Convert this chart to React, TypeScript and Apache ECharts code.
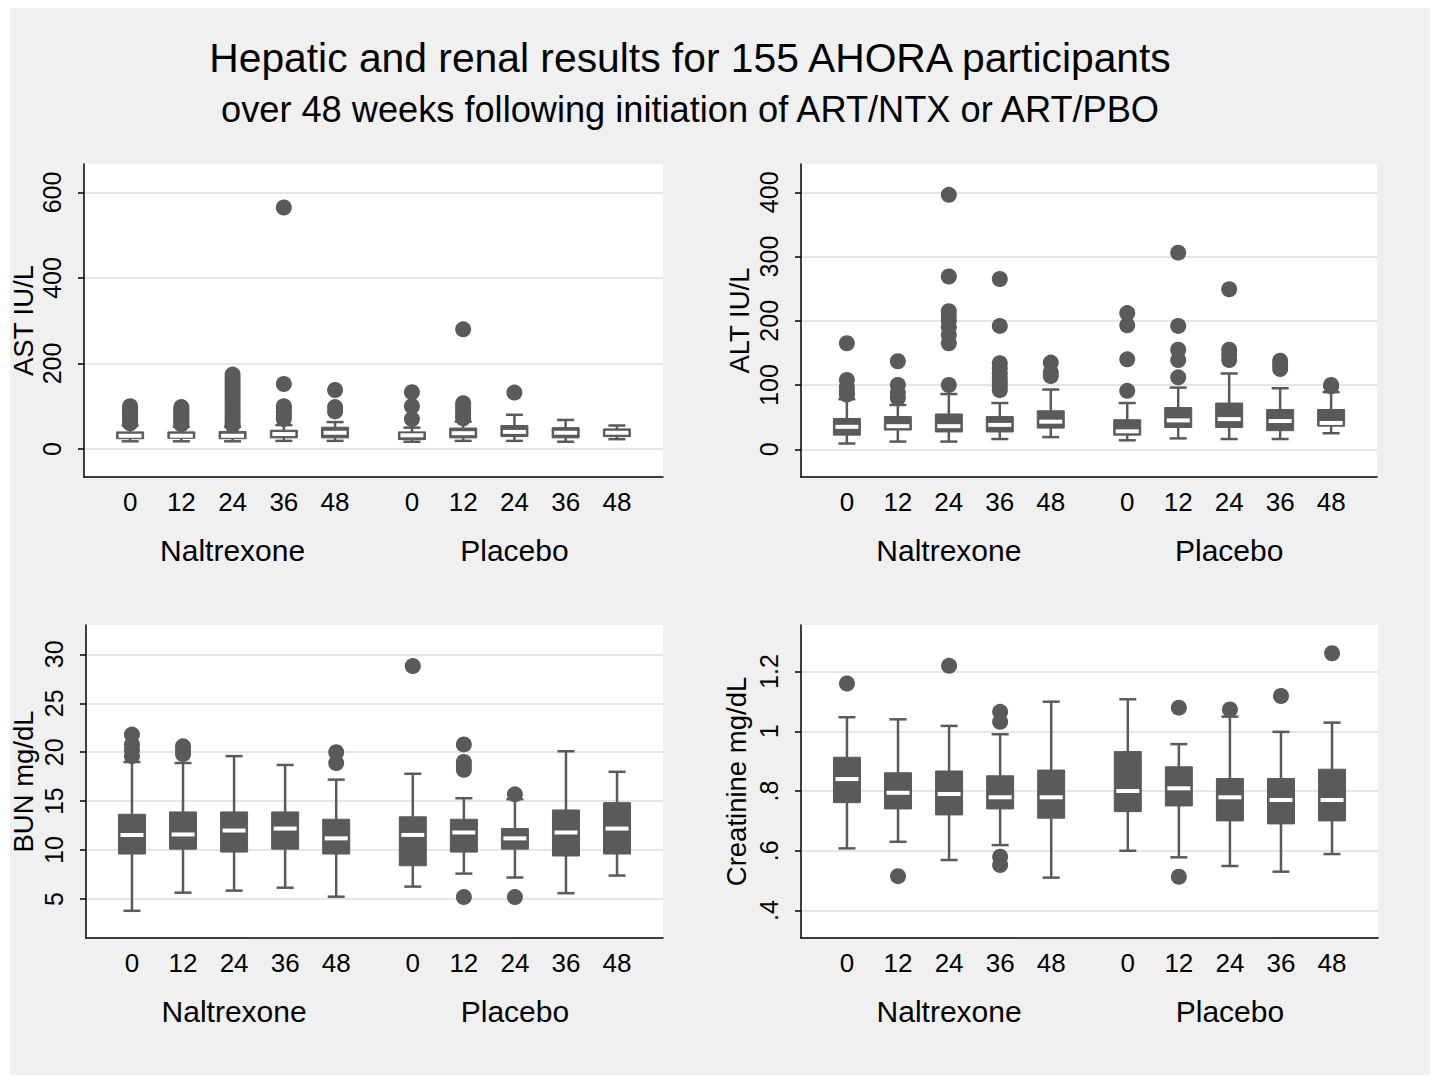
import React, { useEffect, useRef } from "react";
import * as echarts from "echarts";

// ---- Data ----
const xPositions = [1, 2, 3, 4, 5, 6.5, 7.5, 8.5, 9.5, 10.5];
const weekLabels = ["0", "12", "24", "36", "48", "0", "12", "24", "36", "48"];
const groupPositions = [3, 8.5];
const groupLabels = ["Naltrexone", "Placebo"];

// [lower whisker, Q1, median, Q3, upper whisker]
const astStats = [
  [18, 24, 31, 40, 55], [18, 25, 31, 40, 52], [18, 24, 31, 41, 52], [19, 26, 35, 44, 56], [19, 26, 38, 51, 63],
  [17, 22, 32, 40, 50], [19, 26, 37, 49, 64], [19, 29, 40, 55, 80], [17, 26, 38, 50, 68], [23, 29, 38, 47, 55],
];
const astOutliers = [
  [60, 65, 70, 75, 80, 85, 90, 95, 100],
  [58, 63, 68, 73, 78, 83, 88, 93, 98],
  [56, 62, 70, 78, 86, 94, 102, 110, 118, 126, 134, 142, 150, 158, 166, 174],
  [70, 78, 86, 94, 100, 152, 565],
  [88, 98, 138],
  [70, 100, 133],
  [72, 78, 85, 92, 100, 107, 280],
  [132],
  [],
  [],
];
const altStats = [
  [9, 22, 35, 48, 78], [12, 30, 36, 51, 69], [12, 27, 36, 55, 86], [16, 27, 38, 51, 72], [19, 33, 43, 60, 93],
  [14, 22, 28, 46, 72], [17, 34, 45, 65, 96], [16, 34, 47, 72, 118], [16, 29, 44, 62, 95], [25, 36, 41, 62, 89],
];
const altOutliers = [
  [85, 90, 97, 108, 165],
  [80, 88, 100, 137],
  [100, 165, 178, 190, 200, 208, 215, 269, 396],
  [92, 98, 104, 110, 118, 126, 134, 192, 265],
  [114, 120, 135],
  [91, 140, 193, 212],
  [112, 139, 155, 192, 306],
  [139, 147, 155, 249],
  [125, 132, 138],
  [98, 100],
];
const bunStats = [
  [3.8, 9.6, 11.55, 13.66, 19.0], [5.65, 10.1, 11.6, 13.9, 18.9], [5.86, 9.8, 12.0, 13.9, 19.6], [6.16, 10.1, 12.2, 13.9, 18.7], [5.24, 9.6, 11.2, 13.15, 17.2],
  [6.27, 8.4, 11.55, 13.4, 17.8], [7.6, 9.8, 11.8, 13.15, 15.3], [7.2, 10.1, 11.2, 12.2, 15.2], [5.6, 9.4, 11.8, 14.1, 20.1], [7.4, 9.6, 12.2, 14.85, 18.0],
];
const bunOutliers = [
  [19.6, 20.2, 20.8, 21.8],
  [19.8, 20.2, 20.6],
  [],
  [],
  [18.9, 20.0],
  [28.8],
  [5.2, 18.2, 18.6, 19.0, 20.8],
  [5.2, 15.7],
  [],
  [],
];
const crStats = [
  [0.608, 0.761, 0.84, 0.913, 1.047], [0.63, 0.74, 0.794, 0.861, 1.04], [0.569, 0.72, 0.79, 0.867, 1.018], [0.619, 0.74, 0.779, 0.851, 0.99], [0.51, 0.709, 0.779, 0.87, 1.099],
  [0.6, 0.731, 0.8, 0.932, 1.107], [0.578, 0.75, 0.809, 0.881, 0.957], [0.549, 0.7, 0.779, 0.842, 1.049], [0.53, 0.69, 0.77, 0.842, 0.998], [0.589, 0.7, 0.77, 0.873, 1.029],
];
const crOutliers = [
  [1.16],
  [0.515],
  [1.219],
  [0.552, 0.58, 1.032, 1.065],
  [],
  [],
  [0.513, 1.079],
  [1.073],
  [1.118],
  [1.261],
];

const astTicks = [0, 200, 400, 600];
const astTickLabels = ["0", "200", "400", "600"];
const altTicks = [0, 100, 200, 300, 400];
const altTickLabels = ["0", "100", "200", "300", "400"];
const bunTicks = [5, 10, 15, 20, 25, 30];
const bunTickLabels = ["5", "10", "15", "20", "25", "30"];
const crTicks = [0.4, 0.6, 0.8, 1.0, 1.2];
const crTickLabels = [".4", ".6", ".8", "1", "1.2"];

const titleLine1 = "Hepatic and renal results for 155 AHORA participants";
const titleLine2 = "over 48 weeks following initiation of ART/NTX or ART/PBO";

const FONT = "'Liberation Sans', Arial, Helvetica, sans-serif";
const DARK = "#5a5a5a";

const panels = [
  { name: "AST IU/L", stats: astStats, outliers: astOutliers, ticks: astTicks, tickLabels: astTickLabels, min: -65.5, max: 666.7, grid: { left: 84, top: 164, width: 579, height: 313 }, nameGap: 47, labelMargin: 20 },
  { name: "ALT IU/L", stats: altStats, outliers: altOutliers, ticks: altTicks, tickLabels: altTickLabels, min: -43.1, max: 444.0, grid: { left: 801, top: 164, width: 576, height: 313 }, nameGap: 48, labelMargin: 20 },
  { name: "BUN mg/dL", stats: bunStats, outliers: bunOutliers, ticks: bunTicks, tickLabels: bunTickLabels, min: 1.02, max: 33.0, grid: { left: 86, top: 625, width: 577, height: 313 }, nameGap: 49, labelMargin: 20 },
  { name: "Creatinine mg/dL", stats: crStats, outliers: crOutliers, ticks: crTicks, tickLabels: crTickLabels, min: 0.308, max: 1.3557, grid: { left: 801, top: 625, width: 577, height: 313 }, nameGap: 51, labelMargin: 20 },
];

function labelFor(ticks: number[], labels: string[], v: number) {
  let best = 0;
  for (let i = 0; i < ticks.length; i++) {
    if (Math.abs(ticks[i] - v) < Math.abs(ticks[best] - v)) best = i;
  }
  return labels[best];
}

function renderBox(params: any, api: any) {
  const x = api.value(0);
  const lo = api.coord([x, api.value(1)]);
  const q1 = api.coord([x, api.value(2)]);
  const med = api.coord([x, api.value(3)]);
  const q3 = api.coord([x, api.value(4)]);
  const hi = api.coord([x, api.value(5)]);
  const cx = lo[0];
  const bw = 27;
  const cw = 17;
  const lineStyle = { stroke: DARK, lineWidth: 2.5 };
  return {
    type: "group",
    children: [
      { type: "line", shape: { x1: cx, y1: q3[1], x2: cx, y2: hi[1] }, style: lineStyle },
      { type: "line", shape: { x1: cx - cw / 2, y1: hi[1], x2: cx + cw / 2, y2: hi[1] }, style: lineStyle },
      { type: "line", shape: { x1: cx, y1: q1[1], x2: cx, y2: lo[1] }, style: lineStyle },
      { type: "line", shape: { x1: cx - cw / 2, y1: lo[1], x2: cx + cw / 2, y2: lo[1] }, style: lineStyle },
      { type: "rect", shape: { x: cx - bw / 2, y: q3[1], width: bw, height: q1[1] - q3[1] }, style: { fill: DARK, stroke: DARK, lineWidth: 1 } },
      { type: "rect", shape: { x: cx - bw / 2 + 2, y: med[1] - 2, width: bw - 4, height: 4 }, style: { fill: "#ffffff" } },
    ],
  };
}

export default function App() {
  const ref = useRef<HTMLDivElement>(null);
  useEffect(() => {
    if (!ref.current) return;
    const chart = echarts.init(ref.current, undefined, { renderer: "svg" });
    const grids: any[] = [];
    const xAxes: any[] = [];
    const yAxes: any[] = [];
    const series: any[] = [];
    panels.forEach((p, i) => {
      grids.push({ ...p.grid, show: true, backgroundColor: "#ffffff", borderWidth: 0, containLabel: false });
      xAxes.push({
        type: "value", gridIndex: i, min: 0.1, max: 11.4, position: "bottom",
        axisLine: { show: true, onZero: false, lineStyle: { color: "#000", width: 1.5 } },
        axisTick: { show: false, customValues: xPositions },
        splitLine: { show: false },
        axisLabel: {
          customValues: xPositions, margin: 12, fontSize: 26, color: "#000", fontFamily: FONT,
          formatter: (v: number) => labelFor(xPositions, weekLabels, v),
        },
      });
      xAxes.push({
        type: "value", gridIndex: i, min: 0.1, max: 11.4, position: "bottom",
        axisLine: { show: false, onZero: false },
        axisTick: { show: false, customValues: groupPositions },
        splitLine: { show: false },
        axisLabel: {
          customValues: groupPositions, margin: 58, fontSize: 30, color: "#000", fontFamily: FONT,
          formatter: (v: number) => labelFor(groupPositions, groupLabels, v),
        },
      });
      yAxes.push({
        type: "value", gridIndex: i, min: p.min, max: p.max, position: "left",
        name: p.name, nameLocation: "middle", nameRotate: 90, nameGap: p.nameGap,
        nameTextStyle: { fontSize: 27.5, color: "#000", fontFamily: FONT },
        axisLine: { show: true, onZero: false, lineStyle: { color: "#000", width: 1.5 } },
        axisTick: { show: true, length: 6, customValues: p.ticks, lineStyle: { color: "#000", width: 1.5 } },
        splitLine: { show: true, lineStyle: { color: "#e6e6e6", width: 2 } },
        axisLabel: {
          customValues: p.ticks, rotate: 90, margin: p.labelMargin, fontSize: 25, color: "#000", fontFamily: FONT,
          formatter: (v: number) => labelFor(p.ticks, p.tickLabels, v),
        },
      });
      series.push({
        type: "custom", xAxisIndex: 2 * i, yAxisIndex: i,
        renderItem: renderBox,
        encode: { x: 0, y: [1, 2, 3, 4, 5] },
        data: p.stats.map((s, k) => [xPositions[k], ...s]),
        silent: true,
      });
      const pts: number[][] = [];
      p.outliers.forEach((arr, k) => arr.forEach((v) => pts.push([xPositions[k], v])));
      series.push({
        type: "scatter", xAxisIndex: 2 * i, yAxisIndex: i,
        symbol: "circle", symbolSize: 16,
        itemStyle: { color: DARK, opacity: 1 },
        data: pts, silent: true, z: 3,
      });
    });
    chart.setOption({
      animation: false,
      backgroundColor: "transparent",
      grid: grids,
      xAxis: xAxes,
      yAxis: yAxes,
      series,
      graphic: [
        { type: "text", x: 690, y: 58, style: { text: titleLine1, font: `40.8px ${FONT}`, fill: "#000", textAlign: "center", textVerticalAlign: "middle" } },
        { type: "text", x: 690, y: 109, style: { text: titleLine2, font: `36.2px ${FONT}`, fill: "#000", textAlign: "center", textVerticalAlign: "middle" } },
      ],
    });
    return () => chart.dispose();
  }, []);
  return (
    <div style={{ position: "absolute", left: 0, top: 0, width: 1432, height: 1076, background: "#ffffff" }}>
      <div style={{ position: "absolute", left: 10, top: 8, width: 1420, height: 1067, background: "#f0f0f0" }} />
      <div ref={ref} style={{ position: "absolute", left: 0, top: 0, width: 1432, height: 1076 }} />
    </div>
  );
}
